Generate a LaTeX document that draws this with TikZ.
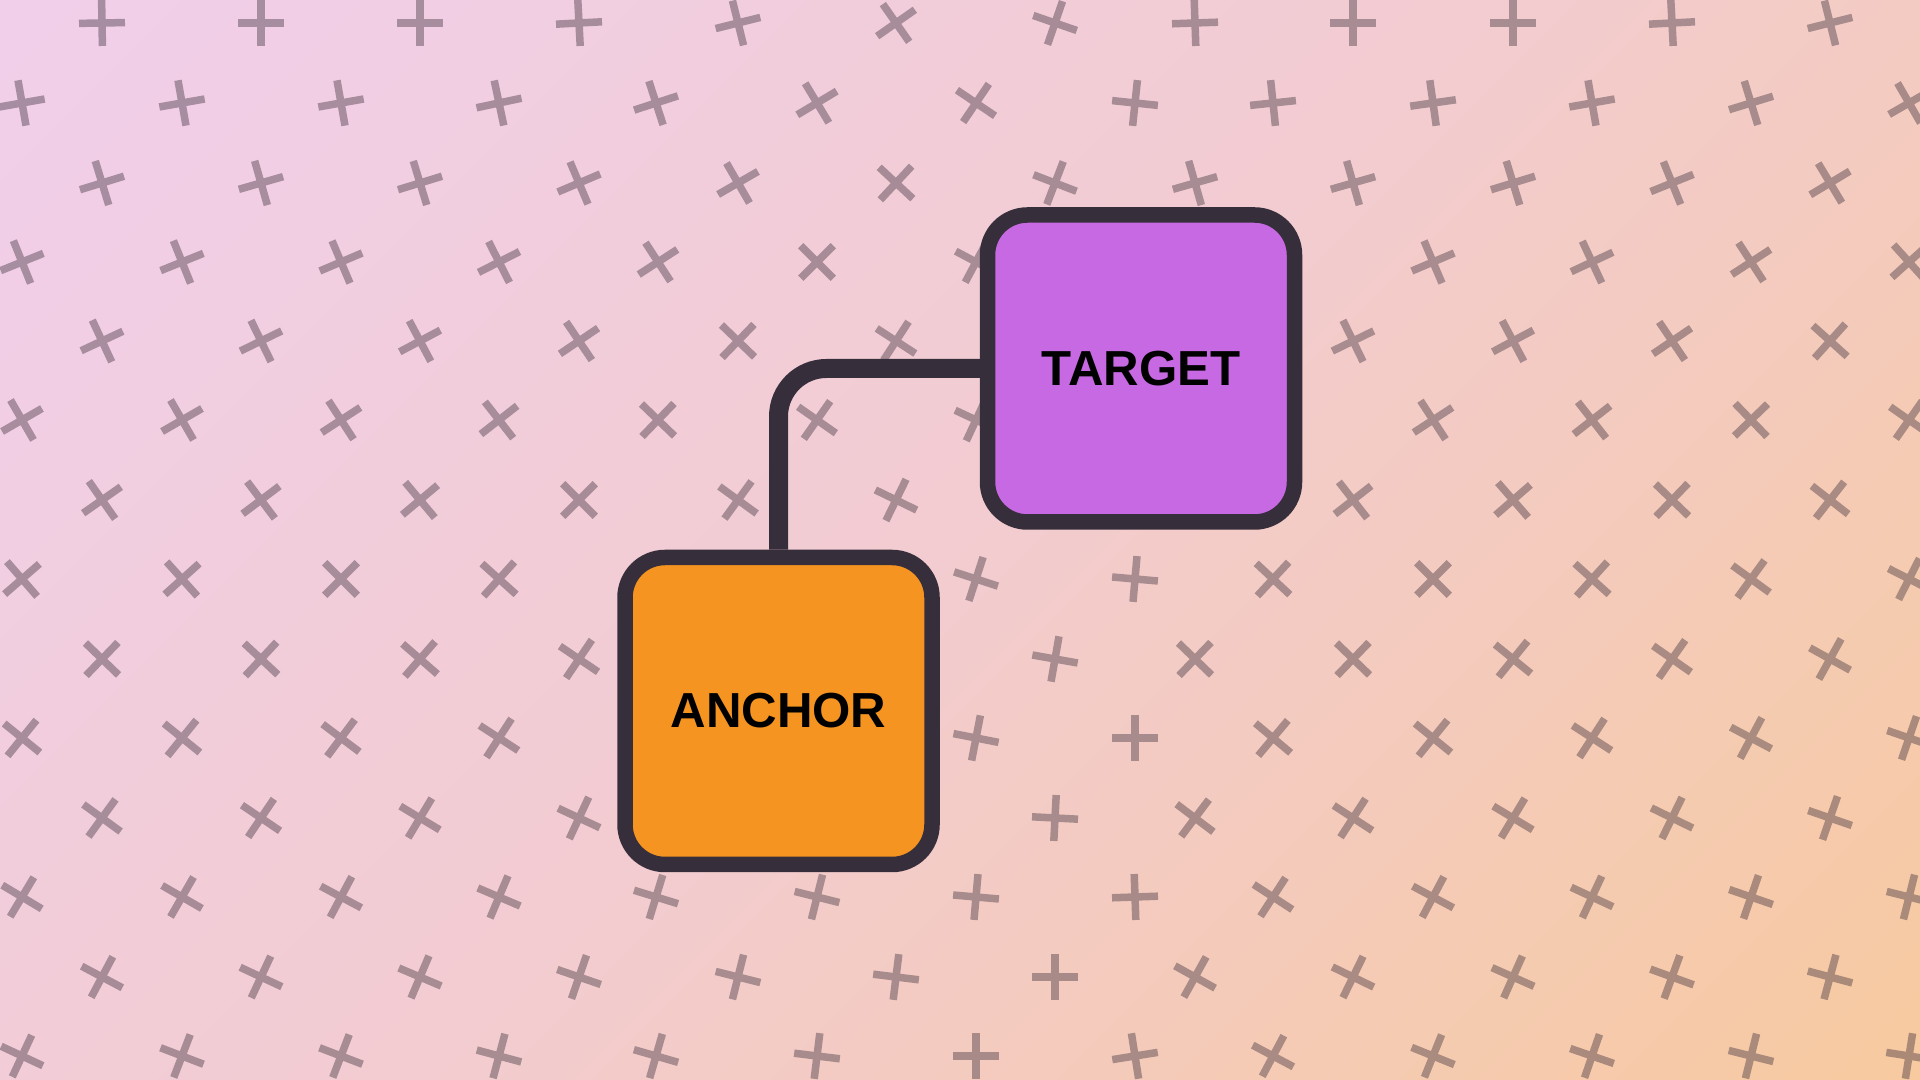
\documentclass[tikz,border=0pt]{standalone}
\usepackage{fontspec}
\usepackage{xcolor}
\usepackage{tikz}
\newfontfamily\boxfont{Liberation Sans}

\definecolor{bgtl}{RGB}{240,208,246}
\definecolor{bgmid}{RGB}{242,204,208}
\definecolor{bgbr}{RGB}{249,201,140}
\definecolor{xink}{RGB}{56,44,56}
\definecolor{boxline}{RGB}{55,46,60}
\definecolor{targetfill}{RGB}{200,105,228}
\definecolor{anchorfill}{RGB}{245,148,32}
\pgfdeclarehorizontalshading{backdrop}{100bp}{color(0bp)=(bgtl); color(50bp)=(bgmid); color(100bp)=(bgbr)}

\begin{document}
\begin{tikzpicture}[
    xmark/.style={draw=xink, draw opacity=0.4, line width=0.075cm},
    box/.style={draw=boxline, line width=0.155cm, rounded corners=0.4cm, minimum width=3.07cm, minimum height=3.07cm, inner sep=0pt, text=black, font=\boxfont\bfseries\fontsize{14}{16}\selectfont},
    wire/.style={draw=boxline, line width=0.19cm, rounded corners=0.48cm}
]
            \useasboundingbox (0,0) rectangle (19.2,10.8);
            \clip (0,0) rectangle (19.2,10.8);
            \shade[shading=backdrop, shading angle=-45] (0,0) rectangle (19.2,10.8);

            \draw[xmark, shift={(1.02,10.57)}, rotate=1]  (-0.23,0) -- (0.23,0) (0,-0.23) -- (0,0.23);
            \draw[xmark, shift={(2.61,10.57)}, rotate=0]  (-0.23,0) -- (0.23,0) (0,-0.23) -- (0,0.23);
            \draw[xmark, shift={(4.20,10.57)}, rotate=0]  (-0.23,0) -- (0.23,0) (0,-0.23) -- (0,0.23);
            \draw[xmark, shift={(5.79,10.57)}, rotate=3]  (-0.23,0) -- (0.23,0) (0,-0.23) -- (0,0.23);
            \draw[xmark, shift={(7.38,10.57)}, rotate=14]  (-0.23,0) -- (0.23,0) (0,-0.23) -- (0,0.23);
            \draw[xmark, shift={(8.96,10.57)}, rotate=35]  (-0.23,0) -- (0.23,0) (0,-0.23) -- (0,0.23);
            \draw[xmark, shift={(10.55,10.57)}, rotate=71]  (-0.23,0) -- (0.23,0) (0,-0.23) -- (0,0.23);
            \draw[xmark, shift={(11.95,10.57)}, rotate=2]  (-0.23,0) -- (0.23,0) (0,-0.23) -- (0,0.23);
            \draw[xmark, shift={(13.53,10.57)}, rotate=0]  (-0.23,0) -- (0.23,0) (0,-0.23) -- (0,0.23);
            \draw[xmark, shift={(15.13,10.57)}, rotate=0]  (-0.23,0) -- (0.23,0) (0,-0.23) -- (0,0.23);
            \draw[xmark, shift={(16.72,10.57)}, rotate=3]  (-0.23,0) -- (0.23,0) (0,-0.23) -- (0,0.23);
            \draw[xmark, shift={(18.30,10.57)}, rotate=14]  (-0.23,0) -- (0.23,0) (0,-0.23) -- (0,0.23);

            \draw[xmark, shift={(0.22,9.77)}, rotate=10]  (-0.23,0) -- (0.23,0) (0,-0.23) -- (0,0.23);
            \draw[xmark, shift={(1.82,9.77)}, rotate=10]  (-0.23,0) -- (0.23,0) (0,-0.23) -- (0,0.23);
            \draw[xmark, shift={(3.41,9.77)}, rotate=10]  (-0.23,0) -- (0.23,0) (0,-0.23) -- (0,0.23);
            \draw[xmark, shift={(4.99,9.77)}, rotate=12]  (-0.23,0) -- (0.23,0) (0,-0.23) -- (0,0.23);
            \draw[xmark, shift={(6.56,9.77)}, rotate=18]  (-0.23,0) -- (0.23,0) (0,-0.23) -- (0,0.23);
            \draw[xmark, shift={(8.17,9.77)}, rotate=31]  (-0.23,0) -- (0.23,0) (0,-0.23) -- (0,0.23);
            \draw[xmark, shift={(9.76,9.77)}, rotate=56]  (-0.23,0) -- (0.23,0) (0,-0.23) -- (0,0.23);
            \draw[xmark, shift={(11.35,9.77)}, rotate=84]  (-0.23,0) -- (0.23,0) (0,-0.23) -- (0,0.23);
            \draw[xmark, shift={(12.73,9.77)}, rotate=6]  (-0.23,0) -- (0.23,0) (0,-0.23) -- (0,0.23);
            \draw[xmark, shift={(14.33,9.77)}, rotate=8]  (-0.23,0) -- (0.23,0) (0,-0.23) -- (0,0.23);
            \draw[xmark, shift={(15.92,9.77)}, rotate=10]  (-0.23,0) -- (0.23,0) (0,-0.23) -- (0,0.23);
            \draw[xmark, shift={(17.51,9.77)}, rotate=17]  (-0.23,0) -- (0.23,0) (0,-0.23) -- (0,0.23);
            \draw[xmark, shift={(19.09,9.77)}, rotate=30]  (-0.23,0) -- (0.23,0) (0,-0.23) -- (0,0.23);

            \draw[xmark, shift={(1.02,8.97)}, rotate=17]  (-0.23,0) -- (0.23,0) (0,-0.23) -- (0,0.23);
            \draw[xmark, shift={(2.61,8.97)}, rotate=16]  (-0.23,0) -- (0.23,0) (0,-0.23) -- (0,0.23);
            \draw[xmark, shift={(4.20,8.97)}, rotate=17]  (-0.23,0) -- (0.23,0) (0,-0.23) -- (0,0.23);
            \draw[xmark, shift={(5.79,8.97)}, rotate=23]  (-0.23,0) -- (0.23,0) (0,-0.23) -- (0,0.23);
            \draw[xmark, shift={(7.38,8.97)}, rotate=30]  (-0.23,0) -- (0.23,0) (0,-0.23) -- (0,0.23);
            \draw[xmark, shift={(8.96,8.97)}, rotate=47]  (-0.23,0) -- (0.23,0) (0,-0.23) -- (0,0.23);
            \draw[xmark, shift={(10.55,8.97)}, rotate=69]  (-0.23,0) -- (0.23,0) (0,-0.23) -- (0,0.23);
            \draw[xmark, shift={(11.95,8.97)}, rotate=16]  (-0.23,0) -- (0.23,0) (0,-0.23) -- (0,0.23);
            \draw[xmark, shift={(13.53,8.97)}, rotate=16]  (-0.23,0) -- (0.23,0) (0,-0.23) -- (0,0.23);
            \draw[xmark, shift={(15.13,8.97)}, rotate=17]  (-0.23,0) -- (0.23,0) (0,-0.23) -- (0,0.23);
            \draw[xmark, shift={(16.72,8.97)}, rotate=22]  (-0.23,0) -- (0.23,0) (0,-0.23) -- (0,0.23);
            \draw[xmark, shift={(18.30,8.97)}, rotate=31]  (-0.23,0) -- (0.23,0) (0,-0.23) -- (0,0.23);

            \draw[xmark, shift={(0.22,8.18)}, rotate=22]  (-0.23,0) -- (0.23,0) (0,-0.23) -- (0,0.23);
            \draw[xmark, shift={(1.82,8.18)}, rotate=22]  (-0.23,0) -- (0.23,0) (0,-0.23) -- (0,0.23);
            \draw[xmark, shift={(3.41,8.18)}, rotate=23]  (-0.23,0) -- (0.23,0) (0,-0.23) -- (0,0.23);
            \draw[xmark, shift={(4.99,8.18)}, rotate=27]  (-0.23,0) -- (0.23,0) (0,-0.23) -- (0,0.23);
            \draw[xmark, shift={(6.58,8.18)}, rotate=33]  (-0.23,0) -- (0.23,0) (0,-0.23) -- (0,0.23);
            \draw[xmark, shift={(8.17,8.18)}, rotate=45]  (-0.23,0) -- (0.23,0) (0,-0.23) -- (0,0.23);
            \draw[xmark, shift={(9.76,8.18)}, rotate=62]  (-0.23,0) -- (0.23,0) (0,-0.23) -- (0,0.23);
            \draw[xmark, shift={(14.33,8.18)}, rotate=23]  (-0.23,0) -- (0.23,0) (0,-0.23) -- (0,0.23);
            \draw[xmark, shift={(15.92,8.18)}, rotate=25]  (-0.23,0) -- (0.23,0) (0,-0.23) -- (0,0.23);
            \draw[xmark, shift={(17.51,8.18)}, rotate=33]  (-0.23,0) -- (0.23,0) (0,-0.23) -- (0,0.23);
            \draw[xmark, shift={(19.09,8.18)}, rotate=42]  (-0.23,0) -- (0.23,0) (0,-0.23) -- (0,0.23);

            \draw[xmark, shift={(1.02,7.39)}, rotate=25]  (-0.23,0) -- (0.23,0) (0,-0.23) -- (0,0.23);
            \draw[xmark, shift={(2.61,7.39)}, rotate=26]  (-0.23,0) -- (0.23,0) (0,-0.23) -- (0,0.23);
            \draw[xmark, shift={(4.20,7.39)}, rotate=28]  (-0.23,0) -- (0.23,0) (0,-0.23) -- (0,0.23);
            \draw[xmark, shift={(5.79,7.39)}, rotate=34]  (-0.23,0) -- (0.23,0) (0,-0.23) -- (0,0.23);
            \draw[xmark, shift={(7.38,7.39)}, rotate=46]  (-0.23,0) -- (0.23,0) (0,-0.23) -- (0,0.23);
            \draw[xmark, shift={(8.96,7.39)}, rotate=57]  (-0.23,0) -- (0.23,0) (0,-0.23) -- (0,0.23);
            \draw[xmark, shift={(13.53,7.39)}, rotate=26]  (-0.23,0) -- (0.23,0) (0,-0.23) -- (0,0.23);
            \draw[xmark, shift={(15.13,7.39)}, rotate=28]  (-0.23,0) -- (0.23,0) (0,-0.23) -- (0,0.23);
            \draw[xmark, shift={(16.72,7.39)}, rotate=34]  (-0.23,0) -- (0.23,0) (0,-0.23) -- (0,0.23);
            \draw[xmark, shift={(18.30,7.39)}, rotate=48]  (-0.23,0) -- (0.23,0) (0,-0.23) -- (0,0.23);

            \draw[xmark, shift={(0.22,6.60)}, rotate=30]  (-0.23,0) -- (0.23,0) (0,-0.23) -- (0,0.23);
            \draw[xmark, shift={(1.82,6.60)}, rotate=30]  (-0.23,0) -- (0.23,0) (0,-0.23) -- (0,0.23);
            \draw[xmark, shift={(3.41,6.60)}, rotate=33]  (-0.23,0) -- (0.23,0) (0,-0.23) -- (0,0.23);
            \draw[xmark, shift={(4.99,6.60)}, rotate=38]  (-0.23,0) -- (0.23,0) (0,-0.23) -- (0,0.23);
            \draw[xmark, shift={(6.58,6.60)}, rotate=46]  (-0.23,0) -- (0.23,0) (0,-0.23) -- (0,0.23);
            \draw[xmark, shift={(8.17,6.60)}, rotate=55]  (-0.23,0) -- (0.23,0) (0,-0.23) -- (0,0.23);
            \draw[xmark, shift={(9.76,6.60)}, rotate=65]  (-0.23,0) -- (0.23,0) (0,-0.23) -- (0,0.23);
            \draw[xmark, shift={(14.33,6.60)}, rotate=33]  (-0.23,0) -- (0.23,0) (0,-0.23) -- (0,0.23);
            \draw[xmark, shift={(15.92,6.60)}, rotate=38]  (-0.23,0) -- (0.23,0) (0,-0.23) -- (0,0.23);
            \draw[xmark, shift={(17.51,6.60)}, rotate=44]  (-0.23,0) -- (0.23,0) (0,-0.23) -- (0,0.23);
            \draw[xmark, shift={(19.09,6.60)}, rotate=55]  (-0.23,0) -- (0.23,0) (0,-0.23) -- (0,0.23);

            \draw[xmark, shift={(1.02,5.80)}, rotate=35]  (-0.23,0) -- (0.23,0) (0,-0.23) -- (0,0.23);
            \draw[xmark, shift={(2.61,5.80)}, rotate=37]  (-0.23,0) -- (0.23,0) (0,-0.23) -- (0,0.23);
            \draw[xmark, shift={(4.20,5.80)}, rotate=40]  (-0.23,0) -- (0.23,0) (0,-0.23) -- (0,0.23);
            \draw[xmark, shift={(5.79,5.80)}, rotate=45]  (-0.23,0) -- (0.23,0) (0,-0.23) -- (0,0.23);
            \draw[xmark, shift={(7.38,5.80)}, rotate=54]  (-0.23,0) -- (0.23,0) (0,-0.23) -- (0,0.23);
            \draw[xmark, shift={(8.96,5.80)}, rotate=64]  (-0.23,0) -- (0.23,0) (0,-0.23) -- (0,0.23);
            \draw[xmark, shift={(13.53,5.80)}, rotate=38]  (-0.23,0) -- (0.23,0) (0,-0.23) -- (0,0.23);
            \draw[xmark, shift={(15.13,5.80)}, rotate=41]  (-0.23,0) -- (0.23,0) (0,-0.23) -- (0,0.23);
            \draw[xmark, shift={(16.72,5.80)}, rotate=46]  (-0.23,0) -- (0.23,0) (0,-0.23) -- (0,0.23);
            \draw[xmark, shift={(18.30,5.80)}, rotate=52]  (-0.23,0) -- (0.23,0) (0,-0.23) -- (0,0.23);

            \draw[xmark, shift={(0.22,5.01)}, rotate=41]  (-0.23,0) -- (0.23,0) (0,-0.23) -- (0,0.23);
            \draw[xmark, shift={(1.82,5.01)}, rotate=42]  (-0.23,0) -- (0.23,0) (0,-0.23) -- (0,0.23);
            \draw[xmark, shift={(3.41,5.01)}, rotate=45]  (-0.23,0) -- (0.23,0) (0,-0.23) -- (0,0.23);
            \draw[xmark, shift={(4.99,5.01)}, rotate=48]  (-0.23,0) -- (0.23,0) (0,-0.23) -- (0,0.23);
            \draw[xmark, shift={(9.76,5.01)}, rotate=72]  (-0.23,0) -- (0.23,0) (0,-0.23) -- (0,0.23);
            \draw[xmark, shift={(11.35,5.01)}, rotate=85]  (-0.23,0) -- (0.23,0) (0,-0.23) -- (0,0.23);
            \draw[xmark, shift={(12.73,5.01)}, rotate=47]  (-0.23,0) -- (0.23,0) (0,-0.23) -- (0,0.23);
            \draw[xmark, shift={(14.33,5.01)}, rotate=45]  (-0.23,0) -- (0.23,0) (0,-0.23) -- (0,0.23);
            \draw[xmark, shift={(15.92,5.01)}, rotate=48]  (-0.23,0) -- (0.23,0) (0,-0.23) -- (0,0.23);
            \draw[xmark, shift={(17.51,5.01)}, rotate=54]  (-0.23,0) -- (0.23,0) (0,-0.23) -- (0,0.23);
            \draw[xmark, shift={(19.09,5.01)}, rotate=63]  (-0.23,0) -- (0.23,0) (0,-0.23) -- (0,0.23);

            \draw[xmark, shift={(1.02,4.21)}, rotate=46]  (-0.23,0) -- (0.23,0) (0,-0.23) -- (0,0.23);
            \draw[xmark, shift={(2.61,4.21)}, rotate=47]  (-0.23,0) -- (0.23,0) (0,-0.23) -- (0,0.23);
            \draw[xmark, shift={(4.20,4.21)}, rotate=49]  (-0.23,0) -- (0.23,0) (0,-0.23) -- (0,0.23);
            \draw[xmark, shift={(5.79,4.21)}, rotate=56]  (-0.23,0) -- (0.23,0) (0,-0.23) -- (0,0.23);
            \draw[xmark, shift={(10.55,4.21)}, rotate=80]  (-0.23,0) -- (0.23,0) (0,-0.23) -- (0,0.23);
            \draw[xmark, shift={(11.95,4.21)}, rotate=46]  (-0.23,0) -- (0.23,0) (0,-0.23) -- (0,0.23);
            \draw[xmark, shift={(13.53,4.21)}, rotate=46]  (-0.23,0) -- (0.23,0) (0,-0.23) -- (0,0.23);
            \draw[xmark, shift={(15.13,4.21)}, rotate=51]  (-0.23,0) -- (0.23,0) (0,-0.23) -- (0,0.23);
            \draw[xmark, shift={(16.72,4.21)}, rotate=55]  (-0.23,0) -- (0.23,0) (0,-0.23) -- (0,0.23);
            \draw[xmark, shift={(18.30,4.21)}, rotate=61]  (-0.23,0) -- (0.23,0) (0,-0.23) -- (0,0.23);

            \draw[xmark, shift={(0.22,3.42)}, rotate=51]  (-0.23,0) -- (0.23,0) (0,-0.23) -- (0,0.23);
            \draw[xmark, shift={(1.82,3.42)}, rotate=51]  (-0.23,0) -- (0.23,0) (0,-0.23) -- (0,0.23);
            \draw[xmark, shift={(3.41,3.42)}, rotate=53]  (-0.23,0) -- (0.23,0) (0,-0.23) -- (0,0.23);
            \draw[xmark, shift={(4.99,3.42)}, rotate=57]  (-0.23,0) -- (0.23,0) (0,-0.23) -- (0,0.23);
            \draw[xmark, shift={(9.76,3.42)}, rotate=79]  (-0.23,0) -- (0.23,0) (0,-0.23) -- (0,0.23);
            \draw[xmark, shift={(11.35,3.42)}, rotate=0]  (-0.23,0) -- (0.23,0) (0,-0.23) -- (0,0.23);
            \draw[xmark, shift={(12.73,3.42)}, rotate=50]  (-0.23,0) -- (0.23,0) (0,-0.23) -- (0,0.23);
            \draw[xmark, shift={(14.33,3.42)}, rotate=51]  (-0.23,0) -- (0.23,0) (0,-0.23) -- (0,0.23);
            \draw[xmark, shift={(15.92,3.42)}, rotate=57]  (-0.23,0) -- (0.23,0) (0,-0.23) -- (0,0.23);
            \draw[xmark, shift={(17.51,3.42)}, rotate=62]  (-0.23,0) -- (0.23,0) (0,-0.23) -- (0,0.23);
            \draw[xmark, shift={(19.09,3.42)}, rotate=71]  (-0.23,0) -- (0.23,0) (0,-0.23) -- (0,0.23);

            \draw[xmark, shift={(1.02,2.62)}, rotate=54]  (-0.23,0) -- (0.23,0) (0,-0.23) -- (0,0.23);
            \draw[xmark, shift={(2.61,2.62)}, rotate=56]  (-0.23,0) -- (0.23,0) (0,-0.23) -- (0,0.23);
            \draw[xmark, shift={(4.20,2.62)}, rotate=59]  (-0.23,0) -- (0.23,0) (0,-0.23) -- (0,0.23);
            \draw[xmark, shift={(5.79,2.62)}, rotate=65]  (-0.23,0) -- (0.23,0) (0,-0.23) -- (0,0.23);
            \draw[xmark, shift={(10.55,2.62)}, rotate=87]  (-0.23,0) -- (0.23,0) (0,-0.23) -- (0,0.23);
            \draw[xmark, shift={(11.95,2.62)}, rotate=53]  (-0.23,0) -- (0.23,0) (0,-0.23) -- (0,0.23);
            \draw[xmark, shift={(13.53,2.62)}, rotate=57]  (-0.23,0) -- (0.23,0) (0,-0.23) -- (0,0.23);
            \draw[xmark, shift={(15.13,2.62)}, rotate=59]  (-0.23,0) -- (0.23,0) (0,-0.23) -- (0,0.23);
            \draw[xmark, shift={(16.72,2.62)}, rotate=64]  (-0.23,0) -- (0.23,0) (0,-0.23) -- (0,0.23);
            \draw[xmark, shift={(18.30,2.62)}, rotate=71]  (-0.23,0) -- (0.23,0) (0,-0.23) -- (0,0.23);

            \draw[xmark, shift={(0.22,1.83)}, rotate=59]  (-0.23,0) -- (0.23,0) (0,-0.23) -- (0,0.23);
            \draw[xmark, shift={(1.82,1.83)}, rotate=60]  (-0.23,0) -- (0.23,0) (0,-0.23) -- (0,0.23);
            \draw[xmark, shift={(3.41,1.83)}, rotate=62]  (-0.23,0) -- (0.23,0) (0,-0.23) -- (0,0.23);
            \draw[xmark, shift={(4.99,1.83)}, rotate=67]  (-0.23,0) -- (0.23,0) (0,-0.23) -- (0,0.23);
            \draw[xmark, shift={(6.56,1.83)}, rotate=73]  (-0.23,0) -- (0.23,0) (0,-0.23) -- (0,0.23);
            \draw[xmark, shift={(8.17,1.83)}, rotate=76]  (-0.23,0) -- (0.23,0) (0,-0.23) -- (0,0.23);
            \draw[xmark, shift={(9.76,1.83)}, rotate=85]  (-0.23,0) -- (0.23,0) (0,-0.23) -- (0,0.23);
            \draw[xmark, shift={(11.35,1.83)}, rotate=2]  (-0.23,0) -- (0.23,0) (0,-0.23) -- (0,0.23);
            \draw[xmark, shift={(12.73,1.83)}, rotate=57]  (-0.23,0) -- (0.23,0) (0,-0.23) -- (0,0.23);
            \draw[xmark, shift={(14.33,1.83)}, rotate=62]  (-0.23,0) -- (0.23,0) (0,-0.23) -- (0,0.23);
            \draw[xmark, shift={(15.92,1.83)}, rotate=65]  (-0.23,0) -- (0.23,0) (0,-0.23) -- (0,0.23);
            \draw[xmark, shift={(17.51,1.83)}, rotate=71]  (-0.23,0) -- (0.23,0) (0,-0.23) -- (0,0.23);
            \draw[xmark, shift={(19.09,1.83)}, rotate=76]  (-0.23,0) -- (0.23,0) (0,-0.23) -- (0,0.23);

            \draw[xmark, shift={(1.02,1.03)}, rotate=62]  (-0.23,0) -- (0.23,0) (0,-0.23) -- (0,0.23);
            \draw[xmark, shift={(2.61,1.03)}, rotate=65]  (-0.23,0) -- (0.23,0) (0,-0.23) -- (0,0.23);
            \draw[xmark, shift={(4.20,1.03)}, rotate=67]  (-0.23,0) -- (0.23,0) (0,-0.23) -- (0,0.23);
            \draw[xmark, shift={(5.79,1.03)}, rotate=71]  (-0.23,0) -- (0.23,0) (0,-0.23) -- (0,0.23);
            \draw[xmark, shift={(7.38,1.03)}, rotate=76]  (-0.23,0) -- (0.23,0) (0,-0.23) -- (0,0.23);
            \draw[xmark, shift={(8.96,1.03)}, rotate=83]  (-0.23,0) -- (0.23,0) (0,-0.23) -- (0,0.23);
            \draw[xmark, shift={(10.55,1.03)}, rotate=0]  (-0.23,0) -- (0.23,0) (0,-0.23) -- (0,0.23);
            \draw[xmark, shift={(11.95,1.03)}, rotate=61]  (-0.23,0) -- (0.23,0) (0,-0.23) -- (0,0.23);
            \draw[xmark, shift={(13.53,1.03)}, rotate=64]  (-0.23,0) -- (0.23,0) (0,-0.23) -- (0,0.23);
            \draw[xmark, shift={(15.13,1.03)}, rotate=66]  (-0.23,0) -- (0.23,0) (0,-0.23) -- (0,0.23);
            \draw[xmark, shift={(16.72,1.03)}, rotate=70]  (-0.23,0) -- (0.23,0) (0,-0.23) -- (0,0.23);
            \draw[xmark, shift={(18.30,1.03)}, rotate=75]  (-0.23,0) -- (0.23,0) (0,-0.23) -- (0,0.23);

            \draw[xmark, shift={(0.22,0.24)}, rotate=65]  (-0.23,0) -- (0.23,0) (0,-0.23) -- (0,0.23);
            \draw[xmark, shift={(1.82,0.24)}, rotate=69]  (-0.23,0) -- (0.23,0) (0,-0.23) -- (0,0.23);
            \draw[xmark, shift={(3.41,0.24)}, rotate=69]  (-0.23,0) -- (0.23,0) (0,-0.23) -- (0,0.23);
            \draw[xmark, shift={(4.99,0.24)}, rotate=75]  (-0.23,0) -- (0.23,0) (0,-0.23) -- (0,0.23);
            \draw[xmark, shift={(6.56,0.24)}, rotate=74]  (-0.23,0) -- (0.23,0) (0,-0.23) -- (0,0.23);
            \draw[xmark, shift={(8.17,0.24)}, rotate=83]  (-0.23,0) -- (0.23,0) (0,-0.23) -- (0,0.23);
            \draw[xmark, shift={(9.76,0.24)}, rotate=0]  (-0.23,0) -- (0.23,0) (0,-0.23) -- (0,0.23);
            \draw[xmark, shift={(11.35,0.24)}, rotate=9]  (-0.23,0) -- (0.23,0) (0,-0.23) -- (0,0.23);
            \draw[xmark, shift={(12.73,0.24)}, rotate=62]  (-0.23,0) -- (0.23,0) (0,-0.23) -- (0,0.23);
            \draw[xmark, shift={(14.33,0.24)}, rotate=68]  (-0.23,0) -- (0.23,0) (0,-0.23) -- (0,0.23);
            \draw[xmark, shift={(15.92,0.24)}, rotate=71]  (-0.23,0) -- (0.23,0) (0,-0.23) -- (0,0.23);
            \draw[xmark, shift={(17.51,0.24)}, rotate=76]  (-0.23,0) -- (0.23,0) (0,-0.23) -- (0,0.23);
            \draw[xmark, shift={(19.09,0.24)}, rotate=81]  (-0.23,0) -- (0.23,0) (0,-0.23) -- (0,0.23);

            \node[box, fill=targetfill] (target) at (11.41,7.115) {TARGET};
            \node[box, fill=anchorfill] (anchor) at (7.785,3.69) {ANCHOR};
            \draw[wire]  (anchor.north) |- (target.west);
        \end{tikzpicture}
\end{document}
